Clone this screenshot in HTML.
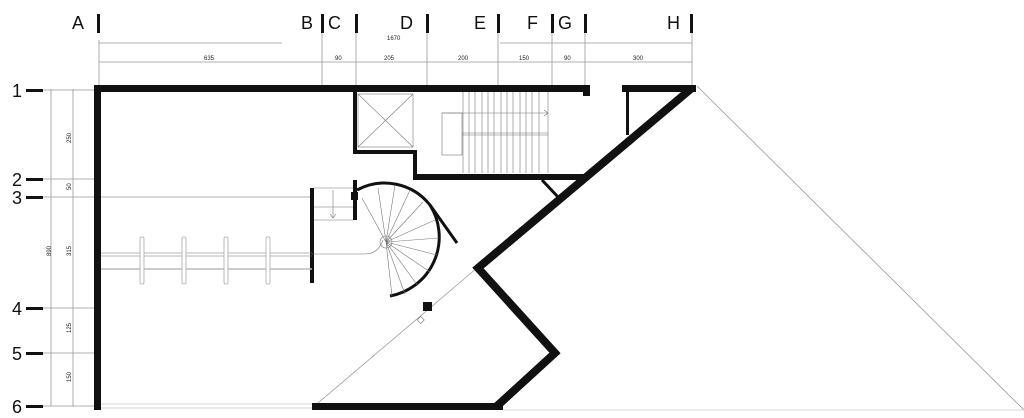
<!DOCTYPE html>
<html><head><style>html,body{margin:0;padding:0;background:#fff;width:1024px;height:418px;overflow:hidden}</style></head>
<body>
<svg width="1024" height="418" viewBox="0 0 1024 418" xmlns="http://www.w3.org/2000/svg" font-family="Liberation Sans, sans-serif">
<g fill="#111" font-size="18">
<text x="72" y="29">A</text>
<text x="301" y="29">B</text><text x="328" y="29">C</text><text x="400" y="29">D</text><text x="474" y="29">E</text><text x="527" y="29">F</text><text x="558" y="29">G</text><text x="667" y="29">H</text>
<text x="12" y="97">1</text><text x="12" y="186">2</text><text x="12" y="204">3</text><text x="12" y="315">4</text><text x="12" y="360">5</text><text x="12" y="413">6</text>
</g>
<g fill="#111">
<rect x="97" y="14" width="3" height="19"/><rect x="321" y="14" width="3" height="19"/><rect x="355" y="14" width="3" height="19"/><rect x="426" y="14" width="3" height="19"/><rect x="497" y="14" width="3" height="19"/><rect x="551" y="14" width="3" height="19"/><rect x="584" y="14" width="3" height="19"/><rect x="690" y="14" width="3" height="19"/>
<rect x="26" y="89" width="17" height="3"/><rect x="26" y="178" width="17" height="3"/><rect x="26" y="196" width="17" height="3"/><rect x="26" y="307" width="17" height="3"/><rect x="26" y="352" width="17" height="3"/><rect x="26" y="405" width="17" height="3"/>
</g>
<g stroke="#999" stroke-width="0.8" fill="none">
<line x1="99" y1="43" x2="282" y2="43"/><line x1="500" y1="43" x2="692" y2="43"/>
<line x1="99" y1="62" x2="692" y2="62"/>
<line x1="99" y1="40" x2="99" y2="88"/><line x1="322" y1="33" x2="322" y2="88"/><line x1="356" y1="33" x2="356" y2="88"/><line x1="427" y1="33" x2="427" y2="88"/><line x1="498" y1="33" x2="498" y2="88"/><line x1="552" y1="33" x2="552" y2="88"/><line x1="585" y1="33" x2="585" y2="88"/><line x1="692" y1="33" x2="692" y2="88"/>
<line x1="51" y1="89" x2="51" y2="406"/><line x1="73" y1="89" x2="73" y2="406"/>
<line x1="43" y1="90" x2="94" y2="90"/><line x1="43" y1="179" x2="94" y2="179"/><line x1="43" y1="197" x2="312" y2="197"/><line x1="43" y1="308" x2="94" y2="308"/><line x1="43" y1="353" x2="94" y2="353"/><line x1="43" y1="406" x2="94" y2="406"/>
<line x1="318" y1="403" x2="477" y2="268"/>
<line x1="697" y1="86" x2="1024" y2="410"/>
<line x1="503" y1="410" x2="1024" y2="410" stroke="#ccc"/>
</g>
<g fill="#222" font-size="6">
<text x="387" y="40">1670</text><text x="204" y="60">635</text><text x="335" y="60">90</text><text x="384" y="60">205</text><text x="458" y="60">200</text><text x="519" y="60">150</text><text x="564" y="60">90</text><text x="633" y="60">300</text>
<text transform="translate(51,256) rotate(-90)">890</text>
<text transform="translate(71,143) rotate(-90)">250</text>
<text transform="translate(71,190) rotate(-90)">50</text>
<text transform="translate(71,256) rotate(-90)">315</text>
<text transform="translate(71,333) rotate(-90)">125</text>
<text transform="translate(71,382) rotate(-90)">150</text>
</g>
<g fill="#111">
<rect x="94" y="85" width="496" height="7"/><rect x="583" y="85" width="7" height="11"/>
<rect x="622" y="85" width="74" height="7"/>
<rect x="94" y="85" width="7" height="325"/>
<rect x="312" y="403" width="191" height="7"/>
<rect x="353" y="92" width="4" height="62"/><rect x="353" y="150" width="63" height="4"/><rect x="413" y="150" width="4" height="30"/>
<rect x="415" y="174" width="170" height="6"/>
<rect x="626" y="88" width="3" height="47"/>
<rect x="310" y="188" width="4" height="95"/>
<rect x="353" y="180" width="4" height="40"/><rect x="351" y="192" width="7" height="8"/>
<rect x="423" y="302" width="9" height="9"/>
</g>
<g stroke="#111" fill="none">
<polyline points="692,88 478,268 555,353 497,406" stroke-width="8" stroke-linejoin="miter"/>
<line x1="542" y1="180" x2="558" y2="197" stroke-width="3"/>
<path d="M357,190 A58,58 0 0 1 430,205 L457,243" stroke-width="3"/>
<path d="M430,205 A60,60 0 0 1 390,296" stroke-width="3"/>
</g>
<g stroke="#777" stroke-width="0.6" fill="none">
<rect x="358" y="94" width="55" height="53"/><line x1="358" y1="94" x2="413" y2="147"/><line x1="413" y1="94" x2="358" y2="147"/>
<rect x="442" y="113" width="20" height="42"/>
<line x1="462" y1="133" x2="548" y2="133"/><line x1="462" y1="135" x2="548" y2="135"/>
<line x1="442" y1="113" x2="548" y2="113"/>
<path d="M463,92V173M469,92V173M475,92V173M482,92V173M488,92V173M494,92V173M501,92V173M507,92V173M513,92V173M520,92V173M526,92V173M532,92V173M539,92V173M548,92V173"/>
<path d="M544,110l4,3l-4,3"/>
<path d="M314,188H353M314,207H353M314,220H353M333,190V218M330,214l3,4l3,-4"/>
<path d="M101,253H312M101,256H312"/>
<path d="M101,269H312" stroke="#bbb" stroke-width="1.5"/>
<path d="M312,254H365Q378,254 383,240"/>
<circle cx="386" cy="242" r="6"/>
<path d="M386,242L362,198M386,242L378,188M386,242L395,185M386,242L410,190M386,242L423,202M386,242L435,220M386,242L439,238M386,242L437,255M386,242L430,272M386,242L418,286M386,242L405,294M386,242L392,296"/>
<rect x="418" y="317" width="5" height="5" transform="rotate(45 420 320)"/>
<path d="M101,404H312M101,408H312" stroke="#aaa"/>
</g>
<g fill="#fff" stroke="#aaa" stroke-width="0.8">
<rect x="140" y="237" width="4" height="47" rx="1.5"/><rect x="182" y="237" width="4" height="47" rx="1.5"/><rect x="224" y="237" width="4" height="47" rx="1.5"/><rect x="266" y="237" width="4" height="47" rx="1.5"/>
</g>
</svg>
</body></html>
